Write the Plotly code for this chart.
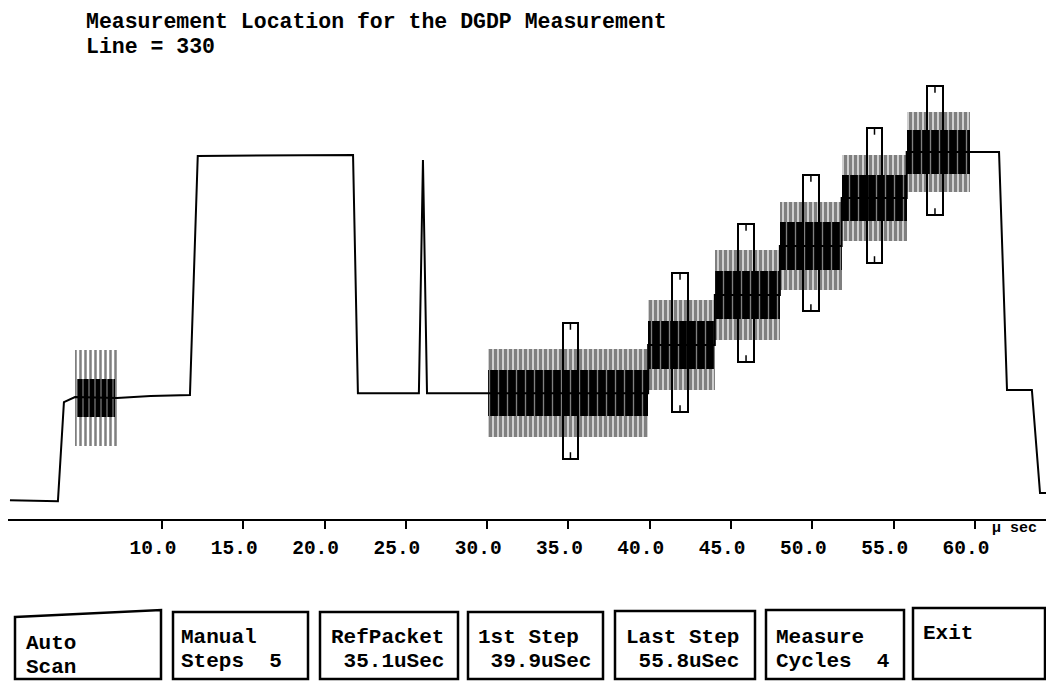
import plotly.graph_objects as go

# ---- data (time in uSec, level in IRE) ----
trace_t = [0.65, 3.6, 3.97, 4.65, 7.23, 9.3, 11.72, 12.2, 21.75, 22.05, 25.8, 26.05, 26.3,
           30.05, 39.9, 39.9, 44.0, 44.0, 48.0, 48.0, 51.8, 51.8, 55.8, 55.8, 59.7,
           61.48, 61.97, 63.5, 64.0, 64.86]
trace_v = [-43.2, -43.6, -2.5, -0.4, -0.8, 0.0, 0.4, 99.6, 100.0, 1.2, 1.2, 97.9, 1.2,
           1.2, 1.2, 21.2, 21.2, 41.9, 41.9, 62.2, 62.2, 82.2, 82.2, 101.2, 101.2,
           101.2, 2.5, 2.5, -40.2, -40.2]

# colour burst
burst_start, burst_end, burst_level = 4.65, 7.23, -0.8
burst_outer, burst_inner = 20.0, 8.0

# measurement packets (reference packet + 5 steps)
pkt_start = [30.05, 39.9, 44.0, 48.0, 51.8, 55.8]
pkt_end = [39.9, 44.0, 48.0, 51.8, 55.8, 59.7]
pkt_level = [1.2, 21.2, 41.9, 62.2, 82.2, 101.2]
pkt_outer = [18.3, 18.7, 18.7, 18.3, 17.8, 16.6]
pkt_inner = [9.5, 10.0, 10.0, 10.0, 9.5, 9.0]

# measurement location cursors
cur_center = [35.12, 41.86, 45.92, 49.91, 53.82, 57.54]
cur_top = [30.3, 51.0, 71.4, 91.7, 111.2, 128.6]
cur_bottom = [-26.1, -6.6, 14.1, 35.3, 55.2, 75.1]

tick_vals = [10, 15, 20, 25, 30, 35, 40, 45, 50, 55, 60]
tick_text = ["10.0", "15.0", "20.0", "25.0", "30.0", "35.0", "40.0", "45.0", "50.0", "55.0", "60.0"]

title_lines = ["Measurement Location for the DGDP Measurement", "Line = 330"]
button_lines = [["Auto", "Scan"],
                ["Manual", "Steps  5"],
                ["RefPacket", " 35.1uSec"],
                ["1st Step", " 39.9uSec"],
                ["Last Step", " 55.8uSec"],
                ["Measure", "Cycles  4"],
                ["Exit"]]

# ---- page geometry (screen pixels; the page body adds an 8px margin) ----
OFF = 8
W, H = 1054 - OFF, 681 - OFF
PLOT_TOP, PLOT_BOTTOM = 80, 519
MONO = "Liberation Mono, Courier New, monospace"


def px(x):
    return (x - OFF) / W


def py(y):
    return (PLOT_BOTTOM - y) / (PLOT_BOTTOM - PLOT_TOP)


fig = go.Figure()

# burst
fig.add_trace(go.Bar(
    x=[(burst_start + burst_end) / 2], width=[burst_end - burst_start],
    base=[burst_level - burst_outer], y=[2 * burst_outer],
    marker=dict(color="white", line=dict(width=0),
                pattern=dict(shape="|", fgcolor="black", bgcolor="white", size=5, solidity=0.5))))
fig.add_trace(go.Bar(
    x=[(burst_start + burst_end) / 2], width=[burst_end - burst_start - 0.3],
    base=[burst_level - burst_inner], y=[2 * burst_inner],
    marker=dict(color="black", line=dict(width=0),
                pattern=dict(shape="|", fgcolor="white", bgcolor="black", size=6, solidity=0.2))))

# packets: streaky outer envelope and dense inner band
centers = [(a + b) / 2 for a, b in zip(pkt_start, pkt_end)]
widths = [b - a for a, b in zip(pkt_start, pkt_end)]
fig.add_trace(go.Bar(
    x=centers, width=widths,
    base=[l - o for l, o in zip(pkt_level, pkt_outer)], y=[2 * o for o in pkt_outer],
    marker=dict(color="white", line=dict(width=0),
                pattern=dict(shape="|", fgcolor="black", bgcolor="white", size=5, solidity=0.75))))
fig.add_trace(go.Bar(
    x=centers, width=widths,
    base=[l - i for l, i in zip(pkt_level, pkt_inner)], y=[2 * i for i in pkt_inner],
    marker=dict(color="black", line=dict(width=0),
                pattern=dict(shape="|", fgcolor="white", bgcolor="black", size=9, solidity=0.15))))

# waveform line
fig.add_trace(go.Scatter(x=trace_t, y=trace_v, mode="lines",
                         line=dict(color="black", width=2)))

# cursors
fig.add_trace(go.Bar(
    x=cur_center, width=[0.95] * len(cur_center),
    base=cur_bottom, y=[t - b for t, b in zip(cur_top, cur_bottom)],
    marker=dict(color="rgba(0,0,0,0)", line=dict(color="black", width=2))))
tx, ty = [], []
for c, t, b in zip(cur_center, cur_top, cur_bottom):
    tx += [c, c, None, c, c, None]
    ty += [t, t - 2.8, None, b, b + 2.8, None]
fig.add_trace(go.Scatter(x=tx, y=ty, mode="lines", line=dict(color="black", width=1.5)))

fig.update_traces(hoverinfo="skip", showlegend=False)

annotations = []
for i, line in enumerate(title_lines):
    annotations.append(dict(x=px(84), y=py(22 + 25 * i), xref="paper", yref="paper",
                            text=line, showarrow=False, xanchor="left", yanchor="middle",
                            font=dict(family=MONO, size=21.5, color="black", weight="bold")))
annotations.append(dict(x=px(990), y=py(528), xref="paper", yref="paper", text="\u00b5 sec",
                        showarrow=False, xanchor="left", yanchor="middle",
                        font=dict(family=MONO, size=15, color="black", weight="bold")))

# soft-key boxes along the bottom
box_left = [15, 173, 320, 468, 615, 766, 913]
box_right = [161, 308, 458, 603, 755, 904, 1045]
box_top = [612, 612, 612, 612, 611, 610, 608]
box_bottom = 679
text_x = [24, 179, 329, 476, 624, 774, 921]
text_y = [643, 637, 637, 637, 637, 637, 633]

shapes = []
for k in range(len(button_lines)):
    if k == 0:
        path = "M {} {} L {} {} L {} {} L {} {} Z".format(
            px(box_left[k]), py(617), px(box_right[k]), py(610),
            px(box_right[k]), py(box_bottom), px(box_left[k]), py(box_bottom))
        shapes.append(dict(type="path", path=path, xref="paper", yref="paper",
                           line=dict(color="black", width=2.5)))
    else:
        shapes.append(dict(type="rect", xref="paper", yref="paper",
                           x0=px(box_left[k]), x1=px(box_right[k]),
                           y0=py(box_bottom), y1=py(box_top[k]),
                           line=dict(color="black", width=2.5)))
    for j, line in enumerate(button_lines[k]):
        annotations.append(dict(x=px(text_x[k]), y=py(text_y[k] + 24 * j),
                                xref="paper", yref="paper",
                                text=line.replace(" ", "\u00a0"), showarrow=False,
                                xanchor="left", yanchor="middle",
                                font=dict(family=MONO, size=21, color="black", weight="bold")))

fig.update_layout(
    width=W, height=H,
    margin=dict(l=0, r=0, t=PLOT_TOP - OFF, b=H - (PLOT_BOTTOM - OFF)),
    paper_bgcolor="white", plot_bgcolor="white",
    barmode="overlay", bargap=0,
    xaxis=dict(range=[0.53, 64.86], showgrid=False, zeroline=False,
               showline=True, linecolor="black", linewidth=2,
               ticks="outside", ticklen=8, tickwidth=1.5, tickcolor="black",
               tickvals=tick_vals, ticktext=tick_text,
               ticklabelshift=-9, ticklabelstandoff=2,
               tickfont=dict(family=MONO, size=19.5, color="black", weight="bold"),
               fixedrange=True),
    yaxis=dict(range=[-51.0, 131.1], visible=False, fixedrange=True),
    shapes=shapes,
    annotations=annotations,
)

fig.write_html("out.html")
